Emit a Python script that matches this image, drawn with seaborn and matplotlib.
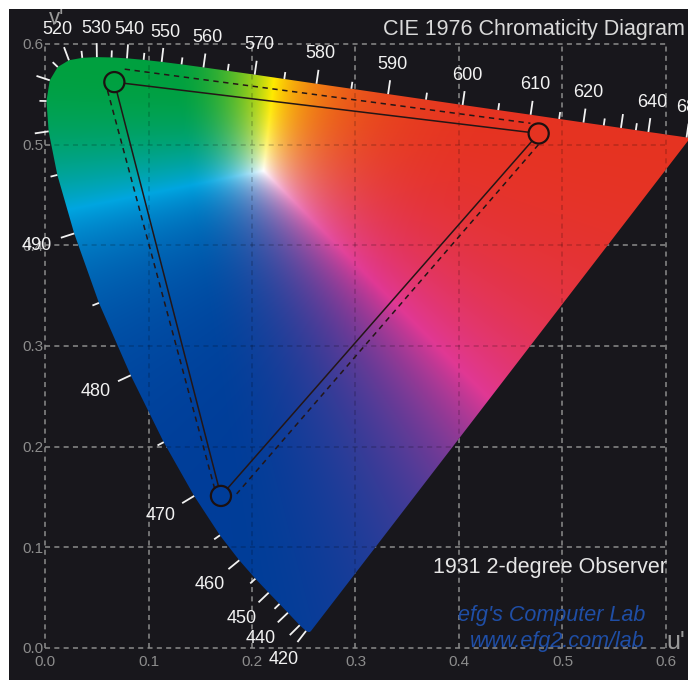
"""CIE 1976 u'v' chromaticity diagram with two RGB gamut triangles."""

import matplotlib
matplotlib.use("Agg")
import matplotlib.pyplot as plt
import numpy as np
import seaborn as sns
from matplotlib.collections import LineCollection
from matplotlib.patches import Polygon

# spectral locus, CIE 1931 2-degree observer, in u'v'
WAVELENGTHS = [380, 400, 410, 420, 430, 440, 445, 450, 455, 460, 465, 470,
               475, 480, 485, 490, 495, 500, 505, 510, 515, 520, 525, 530,
               535, 540, 545, 550, 555, 560, 565, 570, 575, 580, 585, 590,
               595, 600, 605, 610, 615, 620, 625, 630, 635, 640, 645, 650,
               660, 680, 700]
LOCUS_U = [0.2568, 0.2557, 0.2545, 0.2522, 0.2461, 0.2347, 0.2266, 0.2161,
           0.2033, 0.1877, 0.1690, 0.1441, 0.1147, 0.0828, 0.0521, 0.0282,
           0.0119, 0.0035, 0.0014, 0.0046, 0.0123, 0.0231, 0.0360, 0.0501,
           0.0643, 0.0792, 0.0953, 0.1127, 0.1319, 0.1531, 0.1766, 0.2026,
           0.2312, 0.2623, 0.2960, 0.3315, 0.3681, 0.4035, 0.4379, 0.4692,
           0.4968, 0.5203, 0.5399, 0.5565, 0.5709, 0.5830, 0.5929, 0.6005,
           0.6109, 0.6199, 0.6234]
LOCUS_V = [0.0166, 0.0159, 0.0159, 0.0169, 0.0226, 0.0350, 0.0437, 0.0549,
           0.0688, 0.0871, 0.1119, 0.1510, 0.2044, 0.2708, 0.3427, 0.4117,
           0.4698, 0.5131, 0.5432, 0.5638, 0.5770, 0.5837, 0.5861, 0.5868,
           0.5865, 0.5856, 0.5841, 0.5821, 0.5796, 0.5766, 0.5732, 0.5694,
           0.5651, 0.5604, 0.5554, 0.5501, 0.5446, 0.5393, 0.5342, 0.5296,
           0.5254, 0.5219, 0.5190, 0.5165, 0.5143, 0.5125, 0.5111, 0.5099,
           0.5084, 0.5070, 0.5065]

TICK_NM = [420, 430, 440, 445, 450, 455, 460, 465, 470, 475, 480, 485, 490,
           495, 500, 505, 510, 515, 520, 525, 530, 535, 540, 545, 550, 555,
           560, 565, 570, 575, 580, 585, 590, 595, 600, 605, 610, 615, 620,
           625, 630, 635, 640, 680]
LABEL_NM = [420, 440, 450, 460, 470, 480, 490, 520, 530, 540, 550, 560, 570,
            580, 590, 600, 610, 620, 640, 680]

# gamut triangles (green, red, blue corners)
GAMUT_U = [0.067, 0.477, 0.170]
GAMUT_V = [0.562, 0.511, 0.151]
GAMUT2_U = [0.054, 0.492, 0.170]
GAMUT2_V = [0.578, 0.518, 0.135]

GRID_TICKS = [0.0, 0.1, 0.2, 0.3, 0.4, 0.5, 0.6]
GRID_LABELS = ["0.0", "0.1", "0.2", "0.3", "0.4", "0.5", "0.6"]

# XYZ -> linear sRGB
XYZ_TO_RGB = np.array([[3.2406, -1.5372, -0.4986],
                       [-0.9689, 1.8758, 0.0415],
                       [0.0557, -0.2040, 1.0570]])
# printed look of the rgb cube corners
CORNERS = {(0, 0, 0): (0.10, 0.10, 0.10), (1, 0, 0): (0.90, 0.20, 0.13),
           (0, 1, 0): (0.00, 0.63, 0.25), (0, 0, 1): (0.00, 0.24, 0.60),
           (1, 1, 0): (1.00, 0.92, 0.00), (0, 1, 1): (0.00, 0.65, 0.88),
           (1, 0, 1): (0.88, 0.22, 0.58), (1, 1, 1): (1.00, 1.00, 1.00)}
SAT_POWER = 1.6  # how fast the colours leave the white point

BG = "#18171c"
GREY = "#8c8c8c"


def chroma_image(u_rng, v_rng, n=640):
    uu, vv = np.meshgrid(np.linspace(*u_rng, n), np.linspace(*v_rng, n))
    den = 6 * uu - 16 * vv + 12
    x = 9 * uu / den
    y = np.clip(4 * vv / den, 1e-4, None)
    xyz = np.stack([x / y, np.ones_like(x), (1 - x - y) / y], -1)
    m = XYZ_TO_RGB / XYZ_TO_RGB.sum(1, keepdims=True)  # equal-energy white
    rgb = np.clip(np.nan_to_num(xyz @ m.T), 0, None)
    rgb = rgb / np.maximum(rgb.max(-1, keepdims=True), 1e-6)
    rgb = rgb ** SAT_POWER
    out = np.zeros_like(rgb)
    for (i, j, k), col in CORNERS.items():
        w = ((rgb[..., 0] if i else 1 - rgb[..., 0]) *
             (rgb[..., 1] if j else 1 - rgb[..., 1]) *
             (rgb[..., 2] if k else 1 - rgb[..., 2]))
        out += w[..., None] * np.array(col)
    return np.clip(out, 0, 1)


sns.set_theme(style="dark")
plt.rcParams["font.family"] = ["Liberation Sans", "DejaVu Sans"]

fig = plt.figure(figsize=(6.88, 6.80), dpi=100, facecolor="white")
ax = fig.add_axes([9 / 688, 0, 679 / 688, 671 / 680])
ax.set_facecolor(BG)
for s in ax.spines.values():
    s.set_visible(False)
xlim = (-0.0348, 0.6213)
ylim = (-0.0318, 0.6346)

locus = np.column_stack([LOCUS_U, LOCUS_V])
patch = Polygon(locus, closed=True, facecolor="none", edgecolor="none")
ax.add_patch(patch)

img = chroma_image((-0.01, 0.64), (-0.01, 0.61))
im = ax.imshow(img, extent=[-0.01, 0.64, -0.01, 0.61], origin="lower",
               aspect="auto", interpolation="bilinear", zorder=1)
im.set_clip_path(patch)
ax.set_xlim(*xlim)
ax.set_ylim(*ylim)

# grid box: grey on the background, darker dashes over the colours
dash = (0, (3.3, 2.8))
for c, a, z, clip in [(GREY, 1.0, 0.5, False), ("black", 0.2, 2, True)]:
    vl = ax.vlines(GRID_TICKS, 0, 0.6, colors=c, alpha=a, linestyles=dash,
                   lw=1.1, zorder=z)
    hl = ax.hlines(GRID_TICKS, 0, 0.6, colors=c, alpha=a, linestyles=dash,
                   lw=1.1, zorder=z)
    if clip:
        vl.set_clip_path(patch)
        hl.set_clip_path(patch)

ax.set_xticks(GRID_TICKS, GRID_LABELS)
ax.set_yticks(GRID_TICKS, GRID_LABELS)
ax.tick_params(axis="x", length=0, pad=-18, labelsize=11, labelcolor=GREY)
ax.tick_params(axis="y", length=0, pad=-25, labelsize=11, labelcolor=GREY)

# wavelength ticks and labels, perpendicular to the locus
pts = ax.transData.transform(locus)
tang = np.gradient(pts, axis=0)
norm = np.column_stack([-tang[:, 1], tang[:, 0]])
norm /= np.linalg.norm(norm, axis=1, keepdims=True)
inv = ax.transData.inverted()
segs = []
for i, nm in enumerate(WAVELENGTHS):
    if nm not in TICK_NM:
        continue
    length = 14 if nm % 10 == 0 else 7
    end = pts[i] + norm[i] * length
    segs.append(inv.transform([pts[i], end]))
    if nm in LABEL_NM:
        nx, ny = norm[i]
        off = 22 + 16 * abs(nx) + 6 * abs(ny)
        ax.annotate(str(nm), xy=locus[i], xytext=(nx * off * 0.72, ny * off * 0.72),
                    textcoords="offset points", ha="center", va="center",
                    color="#f2f2f2", fontsize=13, zorder=4,
                    annotation_clip=False)
ax.add_collection(LineCollection(segs, colors="#f2f2f2", lw=1.3, zorder=3))


def shorten(us, vs, r_px):
    p = ax.transData.transform(np.column_stack([us, vs]))
    d = p[1] - p[0]
    d = d / np.linalg.norm(d)
    return inv.transform([p[0] + d * r_px, p[1] - d * r_px])


for tri_u, tri_v, style, r in [(GAMUT_U, GAMUT_V, "-", 10.5),
                               (GAMUT2_U, GAMUT2_V, (0, (3.5, 3)), 24)]:
    for a in range(3):
        b = (a + 1) % 3
        seg = shorten([tri_u[a], tri_u[b]], [tri_v[a], tri_v[b]], r)
        ax.plot(seg[:, 0], seg[:, 1], color="#241616", lw=1.1, ls=style,
                zorder=5)

sns.scatterplot(x=GAMUT_U, y=GAMUT_V, ax=ax, s=14.5 ** 2, marker="o",
                facecolors="none", edgecolor="#1c1010", linewidth=1.6,
                zorder=6, legend=False)

fig.text(685 / 688, 1 - 30 / 680, "CIE 1976 Chromaticity Diagram",
         ha="right", va="center", fontsize=15.5, color="#dadada")
fig.text(667 / 688, 1 - 567 / 680, "1931 2-degree Observer",
         ha="right", va="center", fontsize=15.5, color="#e6e6e6")
fig.text(645 / 688, 1 - 615 / 680, "efg's Computer Lab", ha="right",
         va="center", fontsize=15.5, style="italic", color="#1f4ea6")
fig.text(645 / 688, 1 - 641 / 680, "www.efg2.com/lab", ha="right",
         va="center", fontsize=15.5, style="italic", color="#1f4ea6")
fig.text(676 / 688, 1 - 642 / 680, "u'", ha="center", va="center",
         fontsize=18, color="#9a9a9a")
fig.text(57 / 688, 1 - 18 / 680, "v'", ha="center", va="center",
         fontsize=16, color="#9a9a9a")

fig.savefig("out.png", dpi=100, facecolor="white")
